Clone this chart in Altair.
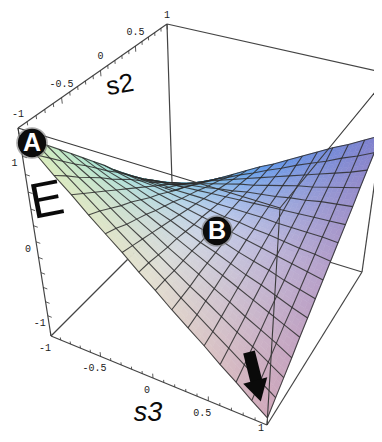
import numpy as np
import pandas as pd
import altair as alt

# Grid of the surface, E in fractions of the half-height of the box
E_HALF = 1.3
E_TABLE = [
 [.94,.83,.72,.61,.50,.39,.28,.17,.05,-.06,-.17,-.28,-.39,-.50,-.61,-.72],
 [.82,.72,.62,.52,.43,.33,.23,.14,.04,-.06,-.16,-.25,-.35,-.45,-.54,-.64],
 [.69,.61,.52,.44,.36,.27,.19,.11,.02,-.06,-.14,-.23,-.31,-.40,-.48,-.56],
 [.57,.50,.43,.36,.29,.22,.15,.08,.01,-.06,-.13,-.21,-.28,-.35,-.42,-.49],
 [.44,.39,.33,.27,.22,.16,.10,.05,-.01,-.07,-.12,-.18,-.24,-.29,-.35,-.41],
 [.32,.28,.23,.19,.15,.10,.06,.02,-.03,-.07,-.11,-.16,-.20,-.24,-.29,-.33],
 [.20,.17,.14,.11,.08,.05,.02,-.01,-.04,-.07,-.10,-.13,-.16,-.19,-.22,-.25],
 [.07,.06,.04,.02,.01,-.01,-.03,-.04,-.06,-.08,-.09,-.11,-.12,-.14,-.16,-.17],
 [-.05,-.05,-.06,-.06,-.06,-.07,-.07,-.07,-.08,-.08,-.08,-.08,-.09,-.09,-.09,-.10],
 [-.18,-.17,-.16,-.14,-.13,-.12,-.11,-.10,-.09,-.08,-.07,-.06,-.05,-.04,-.03,-.02],
 [-.30,-.28,-.25,-.23,-.20,-.18,-.16,-.13,-.11,-.08,-.06,-.04,-.01,.01,.04,.06],
 [-.42,-.39,-.35,-.31,-.27,-.24,-.20,-.16,-.12,-.09,-.05,-.01,.03,.06,.10,.14],
 [-.55,-.50,-.45,-.40,-.34,-.29,-.24,-.19,-.14,-.09,-.04,.01,.06,.11,.16,.22],
 [-.67,-.61,-.54,-.48,-.41,-.35,-.29,-.22,-.16,-.09,-.03,.04,.10,.16,.23,.29],
 [-.80,-.72,-.64,-.56,-.48,-.41,-.33,-.25,-.17,-.09,-.02,.06,.14,.21,.29,.37],
 [-.92,-.83,-.74,-.65,-.55,-.46,-.37,-.28,-.19,-.10,-.01,.08,.18,.27,.36,.45],
]
N = len(E_TABLE) - 1
S_GRID = [-1 + 2 * k / N for k in range(N + 1)]

# Colour anchors: rows s3 = -1, 0, 1; columns s2 = -1, 0, 1
COLOR_ANCHORS = [
 ["#d8eeba", "#9ce2d8", "#68cce4"],
 ["#e4e0d0", "#c2cfec", "#6098ea"],
 ["#d0a8ba", "#b6a0ca", "#8080cc"],
]

# Camera calibration: box corners (s2, s3, E fraction) and where they appear
BOX_3D = [(-1,-1,1),(1,-1,1),(1,1,1),(-1,1,1),(-1,-1,-1),(1,-1,-1),(1,1,-1),(-1,1,-1)]
BOX_PX = [(18,128),(167,24),(390,74),(280,208),(51,336),(173,214),(362,272),(267,425)]

A = []; b = []
for (X3, Y3, Z3), (u, v) in zip(BOX_3D, BOX_PX):
    A.append([X3, Y3, Z3, 1, 0, 0, 0, 0, -u*X3, -u*Y3, -u*Z3]); b.append(u)
    A.append([0, 0, 0, 0, X3, Y3, Z3, 1, -v*X3, -v*Y3, -v*Z3]); b.append(v)
p = np.linalg.lstsq(np.array(A, float), np.array(b, float), rcond=None)[0]
M = np.append(p, 1.0).reshape(3, 4)

def cam(s2, s3, e):
    h = M @ np.array([s2, s3, e, 1.0])
    return np.array([h[0] / h[2], h[1] / h[2]])

# Corner residuals of the fit, spread over the box so the corners land where they were read
RES = [np.array(px, float) - cam(*c) for c, px in zip(BOX_3D, BOX_PX)]

def P(s2, s3, e):
    out = cam(s2, s3, e)
    for c, r in zip(BOX_3D, RES):
        out = out + r * (1 + c[0]*s2) * (1 + c[1]*s3) * (1 + c[2]*e) / 8
    return float(out[0]), float(out[1])

def hex2rgb(c):
    return np.array([int(c[i:i+2], 16) for i in (1, 3, 5)], float)

ANCH = np.array([[hex2rgb(c) for c in row] for row in COLOR_ANCHORS])

def colour(s2, s3):
    u = (s2 + 1); v = (s3 + 1)
    i = min(int(u), 1); j = min(int(v), 1)
    fu = u - i; fv = v - j
    c = (ANCH[j, i]*(1-fu)*(1-fv) + ANCH[j, i+1]*fu*(1-fv)
         + ANCH[j+1, i]*(1-fu)*fv + ANCH[j+1, i+1]*fu*fv)
    return "#%02x%02x%02x" % tuple(int(round(x)) for x in c)

G = [[P(S_GRID[i], S_GRID[j], E_TABLE[j][i]) for i in range(N+1)] for j in range(N+1)]

# Filled cells, far ones first
SUB = 3
features = []
for i in range(N-1, -1, -1):
    for j in range(N):
        c00, c10, c01, c11 = (np.array(G[j][i]), np.array(G[j][i+1]),
                              np.array(G[j+1][i]), np.array(G[j+1][i+1]))
        def q(a, c):
            return ((c00*(1-a) + c10*a)*(1-c) + (c01*(1-a) + c11*a)*c).tolist()
        for a in range(SUB):
            for c in range(SUB):
                a0, a1, c0, c1 = a/SUB, (a+1)/SUB, c/SUB, (c+1)/SUB
                ring = [q(a0,c0), q(a1,c0), q(a1,c1), q(a0,c1), q(a0,c0)]
                s2m = S_GRID[i] + (a0+a1)/2*(S_GRID[i+1]-S_GRID[i])
                s3m = S_GRID[j] + (c0+c1)/2*(S_GRID[j+1]-S_GRID[j])
                features.append({"type": "Feature",
                                 "geometry": {"type": "Polygon", "coordinates": [ring]},
                                 "properties": {"c": colour(s2m, s3m)}})

X = alt.X("x:Q", axis=None, scale=alt.Scale(domain=[8, 374], range=[0, 366]))
Y = alt.Y("y:Q", axis=None, scale=alt.Scale(domain=[8, 434], range=[0, 426]))

def lines(segs):
    rows = []
    for k, seg in enumerate(segs):
        for o, (x, y) in enumerate(seg):
            rows.append({"x": x, "y": y, "k": k, "o": o})
    return pd.DataFrame(rows)

def line_layer(segs, color, width, opacity=1.0):
    return alt.Chart(lines(segs)).mark_line(color=color, strokeWidth=width, opacity=opacity, clip=True).encode(
        x=X, y=Y, detail="k:N", order="o:Q")

def edge(a, b):
    return [P(*a), P(*b)]

back = [edge((-1,-1,1),(1,-1,1)), edge((1,-1,1),(1,1,1)), edge((1,-1,1),(1,-1,-1)),
        edge((-1,-1,1),(-1,-1,-1)), edge((-1,-1,-1),(-1,1,-1)), edge((-1,1,-1),(1,1,-1)),
        edge((1,1,-1),(1,1,1)), edge((1,1,-1),(1,-1,-1)), edge((-1,-1,-1),(1,-1,-1))]
front = [edge((-1,-1,1),(-1,1,1)), edge((-1,1,1),(1,1,1)), edge((-1,1,1),(-1,1,-1))]

grid_segs = [[G[j][i] for i in range(N+1)] for j in range(N+1)] + \
            [[G[j][i] for j in range(N+1)] for i in range(N+1)]

S_TICKS = [-1 + k * 0.1 for k in range(21)]
E_TICKS = [-1 + k * 0.2 for k in range(11)]
tick_segs = []
for s in S_TICKS:
    L = 0.05 if abs(round(s*10)) % 5 == 0 else 0.03
    tick_segs.append(edge((s,-1,1),(s,-1,1-L)))
    tick_segs.append(edge((-1,s,-1),(-1,s,-1+L)))
for e in E_TICKS:
    tick_segs.append(edge((-1,-1,e/E_HALF),(-1,-1+0.04,e/E_HALF)))

S_LABELS = ["-1", "-0.5", "0", "0.5", "1"]
E_LABELS = ["-1", "0", "1"]
rows = []
for t in S_LABELS:
    x, y = P(float(t), -1, 1)
    rows.append({"x": x + 0, "y": max(y - 14, 15), "t": t})
    x, y = P(-1, float(t), -1)
    rows.append({"x": x - 6, "y": min(y + 12, 428), "t": t})
for t in E_LABELS:
    x, y = P(-1, -1, float(t)/E_HALF); rows.append({"x": x - 8, "y": y + 7, "t": t})
tick_text = alt.Chart(pd.DataFrame(rows)).mark_text(font="Liberation Mono", fontSize=10, color="#222").encode(
    x=X, y=Y, text="t:N")

surface = alt.Chart(alt.Data(values=features)).mark_geoshape(strokeWidth=0.6, clip=True).encode(
    fill=alt.Fill("properties.c:N", scale=None), stroke=alt.Stroke("properties.c:N", scale=None)
).project(type="identity", scale=1, translate=[-8, -8])

# Hand annotations
def big(t, x, y, size, angle, style="normal", weight="normal"):
    return alt.Chart(pd.DataFrame({"x": [x], "y": [y], "t": [t]})).mark_text(
        font="Liberation Sans", fontSize=size, angle=angle, fontStyle=style, fontWeight=weight, color="#0a0a0a"
    ).encode(x=X, y=Y, text="t:N")

BADGE_X = [32, 217]; BADGE_Y = [143, 231]; BADGE_T = ["A", "B"]
badge_df = pd.DataFrame({"x": BADGE_X, "y": BADGE_Y, "t": BADGE_T})
halo = alt.Chart(badge_df).mark_point(filled=True, size=1000, color="#777", opacity=0.6).encode(x=X, y=Y)
disc = alt.Chart(badge_df).mark_point(filled=True, size=800, color="#0c0c0c", opacity=1).encode(x=X, y=Y)
badge_text = alt.Chart(badge_df).mark_text(font="Liberation Sans", fontWeight="bold", fontSize=25, color="white").encode(
    x=X, y=Y, text="t:N")

ARROW_X = [249, 257]; ARROW_Y = [352, 384]
shaft = alt.Chart(pd.DataFrame({"x": ARROW_X, "y": ARROW_Y, "k": [0, 0], "o": [0, 1]})).mark_line(
    color="#0a0a0a", strokeWidth=12).encode(x=X, y=Y, detail="k:N", order="o:Q")
head = alt.Chart(pd.DataFrame({"x": [258], "y": [391]})).mark_point(
    filled=True, shape="triangle-down", size=620, color="#0a0a0a", opacity=1, angle=345).encode(x=X, y=Y)

chart = alt.layer(
    line_layer(back, "#444", 1.2),
    surface,
    line_layer(grid_segs, "#2c2c2c", 1.1, 0.85),
    line_layer(front, "#3a3a3a", 1.1),
    line_layer(tick_segs, "#333", 0.8),
    tick_text,
    big("E", 47, 201, 50, 349),
    big("s2", 120, 85, 26, 350),
    big("s3", 148, 413, 27, 0, style="italic"),
    halo, disc, badge_text, shaft, head,
).properties(width=366, height=426, padding=0, autosize="none", background="white").configure_view(stroke=None)

chart.save("out.html", embed_options={"renderer": "svg", "actions": False})
